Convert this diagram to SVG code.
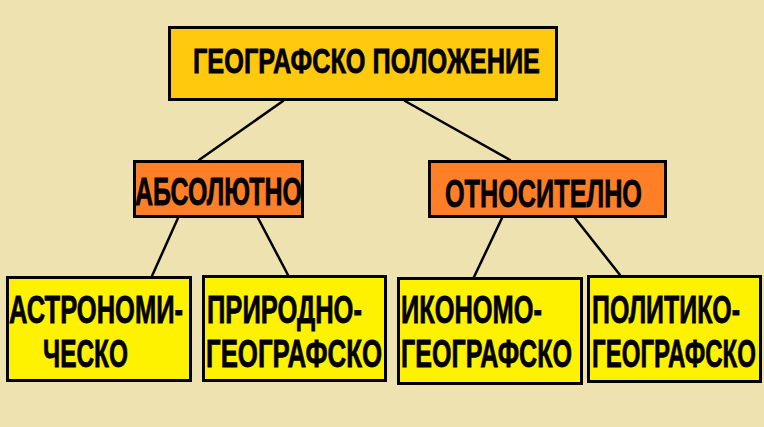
<svg xmlns="http://www.w3.org/2000/svg" width="764" height="427" viewBox="0 0 764 427">
<style>
.box{stroke:#000;stroke-width:3}
.top{fill:#FFC90E}
.mid{fill:#FF7F27}
.leaf{fill:#FFF200}
.edge{stroke:#000;stroke-width:2.5;fill:none;stroke-linecap:round}
text{font-family:"Liberation Sans Narrow","Liberation Sans",Arial,sans-serif;font-weight:bold;fill:#000;stroke:#000;stroke-width:0.8}
.t1{font-size:35px}
.t2{font-size:39px}
</style>
<rect x="0" y="0" width="764" height="427" fill="#EEE2B0"/>
<g id="connectors">
<line class="edge" x1="283" y1="101" x2="199" y2="160"/>
<line class="edge" x1="405" y1="101" x2="510" y2="160"/>
<line class="edge" x1="178" y1="218" x2="152" y2="276"/>
<line class="edge" x1="258" y1="218" x2="288" y2="275"/>
<line class="edge" x1="502" y1="218" x2="474" y2="277"/>
<line class="edge" x1="575" y1="218" x2="620" y2="275"/>
</g>
<g id="node-geo">
<rect class="box top" x="169.5" y="27.5" width="387" height="72"/>
<text class="t1" x="193" y="73" textLength="347" lengthAdjust="spacingAndGlyphs">ГЕОГРАФСКО ПОЛОЖЕНИЕ</text>
</g>
<g id="node-abs">
<rect class="box mid" x="134.5" y="161.5" width="168" height="55"/>
<text class="t2" x="135" y="205" textLength="167" lengthAdjust="spacingAndGlyphs">АБСОЛЮТНО</text>
</g>
<g id="node-rel">
<rect class="box mid" x="429.5" y="161.5" width="236" height="55"/>
<text class="t2" x="445" y="207" textLength="197" lengthAdjust="spacingAndGlyphs">ОТНОСИТЕЛНО</text>
</g>
<g id="node-astro">
<rect class="box leaf" x="7.5" y="277.5" width="183" height="103"/>
<text class="t2" x="9" y="323" textLength="174" lengthAdjust="spacingAndGlyphs">АСТРОНОМИ-</text>
<text class="t2" x="43" y="367" textLength="85" lengthAdjust="spacingAndGlyphs">ЧЕСКО</text>
</g>
<g id="node-prirodno">
<rect class="box leaf" x="203.5" y="276.5" width="182" height="104"/>
<text class="t2" x="207" y="323" textLength="155" lengthAdjust="spacingAndGlyphs">ПРИРОДНО-</text>
<text class="t2" x="206" y="367" textLength="176" lengthAdjust="spacingAndGlyphs">ГЕОГРАФСКО</text>
</g>
<g id="node-ikonomo">
<rect class="box leaf" x="398.5" y="278.5" width="183" height="105"/>
<text class="t2" x="401" y="323" textLength="141" lengthAdjust="spacingAndGlyphs">ИКОНОМО-</text>
<text class="t2" x="401" y="367" textLength="171" lengthAdjust="spacingAndGlyphs">ГЕОГРАФСКО</text>
</g>
<g id="node-politiko">
<rect class="box leaf" x="588.5" y="276.5" width="172" height="105"/>
<text class="t2" x="592" y="323" textLength="148" lengthAdjust="spacingAndGlyphs">ПОЛИТИКО-</text>
<text class="t2" x="592" y="367" textLength="164" lengthAdjust="spacingAndGlyphs">ГЕОГРАФСКО</text>
</g>
</svg>
